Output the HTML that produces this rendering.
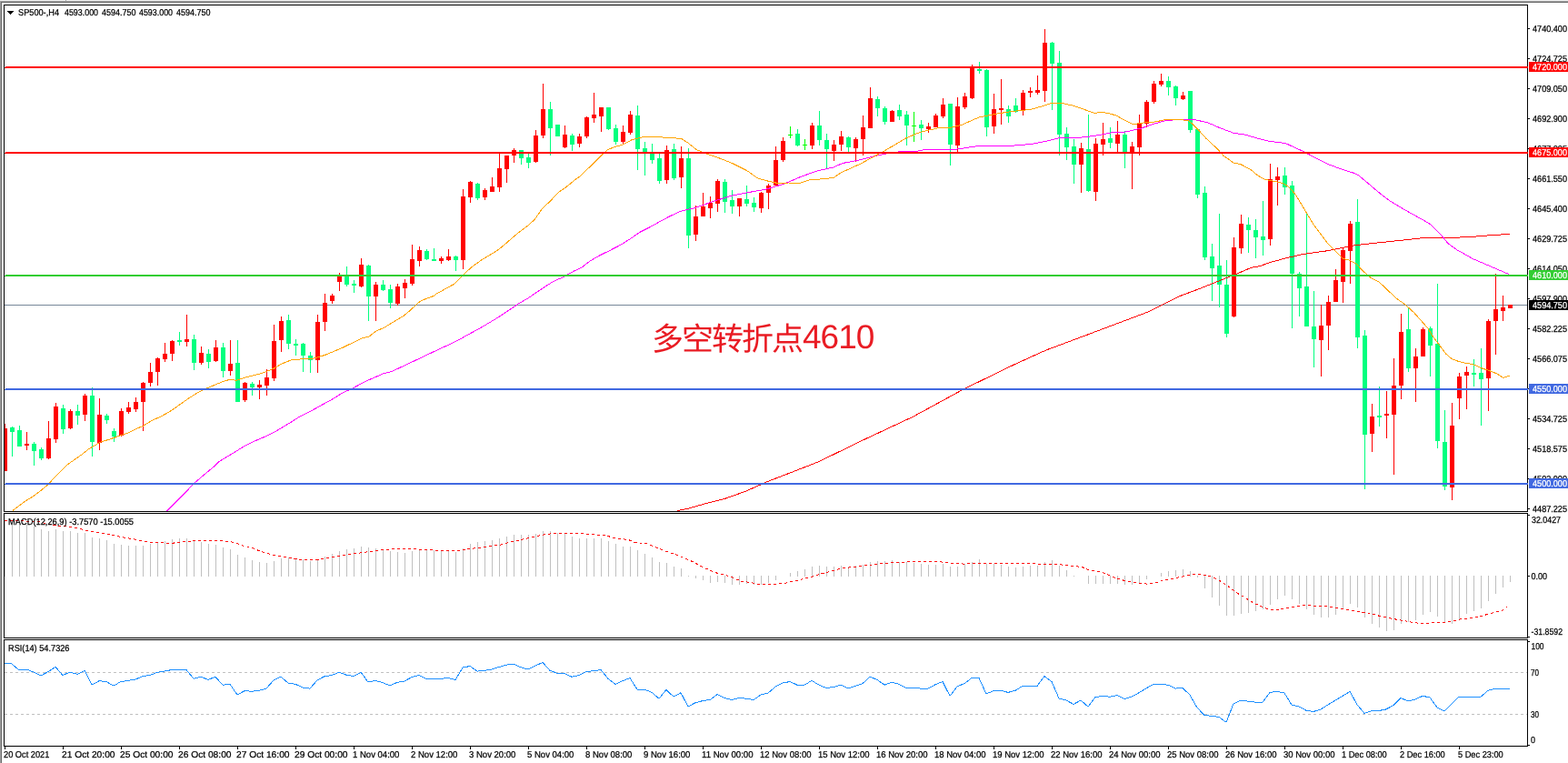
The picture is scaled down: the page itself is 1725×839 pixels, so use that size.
<!DOCTYPE html><html><head><meta charset="utf-8"><title>SP500-,H4</title><style>html,body{margin:0;padding:0;background:#fff;width:1725px;height:839px;overflow:hidden}svg{display:block;text-rendering:geometricPrecision}.t{font-family:"Liberation Sans",Arial,sans-serif;font-size:10.0px;fill:#000;stroke:#000;stroke-width:0.25px}.w{fill:#fff;stroke:#fff}.cn{font-family:"Liberation Sans","Noto Sans CJK SC",sans-serif;fill:#e91c24}</style></head><body>
<svg width="1725" height="839" viewBox="0 0 1725 839" shape-rendering="crispEdges">
<rect x="0" y="0" width="1725" height="839" fill="#fff"/>
<rect x="0" y="0" width="1725" height="1" fill="#f0f0f0"/>
<rect x="0" y="1" width="1725" height="1" fill="#a0a0a0"/>
<rect x="0" y="2" width="1725" height="1" fill="#696969"/>
<rect x="0" y="1" width="1" height="838" fill="#a0a0a0"/>
<rect x="1" y="2" width="1" height="837" fill="#696969"/>
<rect x="72" y="0" width="1" height="1" fill="#a0a0a0"/>
<defs><clipPath id="cm"><rect x="5" y="6" width="1675" height="556"/></clipPath><clipPath id="cd"><rect x="5" y="565" width="1675" height="136"/></clipPath><clipPath id="cr"><rect x="5" y="704" width="1675" height="116"/></clipPath></defs>
<g clip-path="url(#cm)">
<rect x="5" y="335" width="1676" height="1" fill="#778899"/>
<rect x="5" y="466" width="1" height="52" fill="#ff0000"/>
<rect x="3" y="471" width="5" height="47" fill="#ff0000"/>
<rect x="13" y="469" width="1" height="33" fill="#00ff7f"/>
<rect x="11" y="470" width="5" height="5" fill="#00ff7f"/>
<rect x="21" y="468" width="1" height="23" fill="#00ff7f"/>
<rect x="19" y="473" width="5" height="18" fill="#00ff7f"/>
<rect x="29" y="475" width="1" height="20" fill="#ff0000"/>
<rect x="27" y="488" width="5" height="2" fill="#ff0000"/>
<rect x="37" y="486" width="1" height="26" fill="#00ff7f"/>
<rect x="35" y="488" width="5" height="8" fill="#00ff7f"/>
<rect x="45" y="492" width="1" height="14" fill="#00ff7f"/>
<rect x="43" y="494" width="5" height="10" fill="#00ff7f"/>
<rect x="53" y="463" width="1" height="42" fill="#ff0000"/>
<rect x="51" y="482" width="5" height="22" fill="#ff0000"/>
<rect x="61" y="443" width="1" height="44" fill="#ff0000"/>
<rect x="59" y="447" width="5" height="36" fill="#ff0000"/>
<rect x="69" y="445" width="1" height="32" fill="#00ff7f"/>
<rect x="67" y="449" width="5" height="23" fill="#00ff7f"/>
<rect x="77" y="450" width="1" height="22" fill="#ff0000"/>
<rect x="75" y="452" width="5" height="19" fill="#ff0000"/>
<rect x="85" y="445" width="1" height="22" fill="#00ff7f"/>
<rect x="83" y="452" width="5" height="5" fill="#00ff7f"/>
<rect x="93" y="433" width="1" height="30" fill="#ff0000"/>
<rect x="91" y="435" width="5" height="21" fill="#ff0000"/>
<rect x="101" y="426" width="1" height="76" fill="#00ff7f"/>
<rect x="99" y="435" width="5" height="51" fill="#00ff7f"/>
<rect x="109" y="438" width="1" height="57" fill="#ff0000"/>
<rect x="107" y="456" width="5" height="31" fill="#ff0000"/>
<rect x="117" y="455" width="1" height="11" fill="#00ff7f"/>
<rect x="115" y="457" width="5" height="5" fill="#00ff7f"/>
<rect x="125" y="471" width="1" height="15" fill="#00ff7f"/>
<rect x="123" y="474" width="5" height="6" fill="#00ff7f"/>
<rect x="133" y="449" width="1" height="31" fill="#ff0000"/>
<rect x="131" y="452" width="5" height="27" fill="#ff0000"/>
<rect x="141" y="442" width="1" height="13" fill="#ff0000"/>
<rect x="139" y="448" width="5" height="5" fill="#ff0000"/>
<rect x="149" y="437" width="1" height="16" fill="#ff0000"/>
<rect x="147" y="442" width="5" height="8" fill="#ff0000"/>
<rect x="157" y="420" width="1" height="54" fill="#ff0000"/>
<rect x="155" y="421" width="5" height="21" fill="#ff0000"/>
<rect x="165" y="399" width="1" height="26" fill="#ff0000"/>
<rect x="163" y="409" width="5" height="12" fill="#ff0000"/>
<rect x="173" y="393" width="1" height="31" fill="#ff0000"/>
<rect x="171" y="394" width="5" height="15" fill="#ff0000"/>
<rect x="181" y="377" width="1" height="21" fill="#ff0000"/>
<rect x="179" y="389" width="5" height="6" fill="#ff0000"/>
<rect x="189" y="374" width="1" height="23" fill="#ff0000"/>
<rect x="187" y="375" width="5" height="14" fill="#ff0000"/>
<rect x="197" y="365" width="1" height="15" fill="#00ff7f"/>
<rect x="195" y="374" width="5" height="2" fill="#00ff7f"/>
<rect x="205" y="346" width="1" height="35" fill="#ff0000"/>
<rect x="203" y="373" width="5" height="3" fill="#ff0000"/>
<rect x="213" y="368" width="1" height="39" fill="#00ff7f"/>
<rect x="211" y="373" width="5" height="26" fill="#00ff7f"/>
<rect x="221" y="381" width="1" height="20" fill="#ff0000"/>
<rect x="219" y="388" width="5" height="11" fill="#ff0000"/>
<rect x="229" y="384" width="1" height="21" fill="#00ff7f"/>
<rect x="227" y="389" width="5" height="9" fill="#00ff7f"/>
<rect x="237" y="374" width="1" height="24" fill="#ff0000"/>
<rect x="235" y="382" width="5" height="15" fill="#ff0000"/>
<rect x="245" y="377" width="1" height="38" fill="#00ff7f"/>
<rect x="243" y="382" width="5" height="26" fill="#00ff7f"/>
<rect x="253" y="374" width="1" height="39" fill="#ff0000"/>
<rect x="251" y="400" width="5" height="8" fill="#ff0000"/>
<rect x="261" y="374" width="1" height="68" fill="#00ff7f"/>
<rect x="259" y="399" width="5" height="43" fill="#00ff7f"/>
<rect x="269" y="420" width="1" height="22" fill="#ff0000"/>
<rect x="267" y="421" width="5" height="19" fill="#ff0000"/>
<rect x="277" y="420" width="1" height="15" fill="#00ff7f"/>
<rect x="275" y="422" width="5" height="4" fill="#00ff7f"/>
<rect x="285" y="418" width="1" height="21" fill="#ff0000"/>
<rect x="283" y="423" width="5" height="3" fill="#ff0000"/>
<rect x="293" y="406" width="1" height="29" fill="#ff0000"/>
<rect x="291" y="415" width="5" height="9" fill="#ff0000"/>
<rect x="301" y="357" width="1" height="62" fill="#ff0000"/>
<rect x="299" y="375" width="5" height="41" fill="#ff0000"/>
<rect x="309" y="348" width="1" height="39" fill="#ff0000"/>
<rect x="307" y="353" width="5" height="21" fill="#ff0000"/>
<rect x="317" y="346" width="1" height="38" fill="#00ff7f"/>
<rect x="315" y="352" width="5" height="26" fill="#00ff7f"/>
<rect x="325" y="373" width="1" height="18" fill="#00ff7f"/>
<rect x="323" y="378" width="5" height="2" fill="#00ff7f"/>
<rect x="333" y="377" width="1" height="32" fill="#00ff7f"/>
<rect x="331" y="378" width="5" height="13" fill="#00ff7f"/>
<rect x="341" y="387" width="1" height="23" fill="#00ff7f"/>
<rect x="339" y="391" width="5" height="5" fill="#00ff7f"/>
<rect x="349" y="346" width="1" height="64" fill="#ff0000"/>
<rect x="347" y="354" width="5" height="42" fill="#ff0000"/>
<rect x="357" y="323" width="1" height="41" fill="#ff0000"/>
<rect x="355" y="333" width="5" height="21" fill="#ff0000"/>
<rect x="365" y="323" width="1" height="11" fill="#ff0000"/>
<rect x="363" y="325" width="5" height="6" fill="#ff0000"/>
<rect x="373" y="300" width="1" height="20" fill="#ff0000"/>
<rect x="371" y="304" width="5" height="6" fill="#ff0000"/>
<rect x="381" y="293" width="1" height="22" fill="#00ff7f"/>
<rect x="379" y="303" width="5" height="10" fill="#00ff7f"/>
<rect x="389" y="308" width="1" height="14" fill="#00ff7f"/>
<rect x="387" y="312" width="5" height="2" fill="#00ff7f"/>
<rect x="397" y="284" width="1" height="32" fill="#ff0000"/>
<rect x="395" y="291" width="5" height="24" fill="#ff0000"/>
<rect x="405" y="291" width="1" height="62" fill="#00ff7f"/>
<rect x="403" y="292" width="5" height="34" fill="#00ff7f"/>
<rect x="413" y="310" width="1" height="43" fill="#ff0000"/>
<rect x="411" y="313" width="5" height="13" fill="#ff0000"/>
<rect x="421" y="308" width="1" height="12" fill="#00ff7f"/>
<rect x="419" y="313" width="5" height="6" fill="#00ff7f"/>
<rect x="429" y="313" width="1" height="26" fill="#00ff7f"/>
<rect x="427" y="318" width="5" height="15" fill="#00ff7f"/>
<rect x="437" y="312" width="1" height="24" fill="#ff0000"/>
<rect x="435" y="315" width="5" height="19" fill="#ff0000"/>
<rect x="445" y="307" width="1" height="21" fill="#ff0000"/>
<rect x="443" y="311" width="5" height="6" fill="#ff0000"/>
<rect x="453" y="269" width="1" height="45" fill="#ff0000"/>
<rect x="451" y="285" width="5" height="27" fill="#ff0000"/>
<rect x="461" y="271" width="1" height="22" fill="#ff0000"/>
<rect x="459" y="275" width="5" height="12" fill="#ff0000"/>
<rect x="469" y="274" width="1" height="12" fill="#00ff7f"/>
<rect x="467" y="276" width="5" height="9" fill="#00ff7f"/>
<rect x="477" y="273" width="1" height="14" fill="#00ff7f"/>
<rect x="475" y="285" width="5" height="2" fill="#00ff7f"/>
<rect x="485" y="282" width="1" height="8" fill="#ff0000"/>
<rect x="483" y="284" width="5" height="3" fill="#ff0000"/>
<rect x="493" y="274" width="1" height="13" fill="#ff0000"/>
<rect x="491" y="282" width="5" height="4" fill="#ff0000"/>
<rect x="501" y="281" width="1" height="17" fill="#00ff7f"/>
<rect x="499" y="282" width="5" height="4" fill="#00ff7f"/>
<rect x="509" y="208" width="1" height="88" fill="#ff0000"/>
<rect x="507" y="216" width="5" height="70" fill="#ff0000"/>
<rect x="517" y="199" width="1" height="24" fill="#ff0000"/>
<rect x="515" y="200" width="5" height="17" fill="#ff0000"/>
<rect x="525" y="201" width="1" height="19" fill="#00ff7f"/>
<rect x="523" y="202" width="5" height="16" fill="#00ff7f"/>
<rect x="533" y="207" width="1" height="13" fill="#ff0000"/>
<rect x="531" y="209" width="5" height="8" fill="#ff0000"/>
<rect x="541" y="195" width="1" height="16" fill="#ff0000"/>
<rect x="539" y="205" width="5" height="6" fill="#ff0000"/>
<rect x="549" y="168" width="1" height="43" fill="#ff0000"/>
<rect x="547" y="185" width="5" height="21" fill="#ff0000"/>
<rect x="557" y="171" width="1" height="30" fill="#ff0000"/>
<rect x="555" y="171" width="5" height="15" fill="#ff0000"/>
<rect x="565" y="163" width="1" height="16" fill="#ff0000"/>
<rect x="563" y="165" width="5" height="6" fill="#ff0000"/>
<rect x="573" y="165" width="1" height="16" fill="#00ff7f"/>
<rect x="571" y="165" width="5" height="9" fill="#00ff7f"/>
<rect x="581" y="169" width="1" height="16" fill="#00ff7f"/>
<rect x="579" y="173" width="5" height="6" fill="#00ff7f"/>
<rect x="589" y="143" width="1" height="36" fill="#ff0000"/>
<rect x="587" y="149" width="5" height="29" fill="#ff0000"/>
<rect x="597" y="92" width="1" height="60" fill="#ff0000"/>
<rect x="595" y="120" width="5" height="29" fill="#ff0000"/>
<rect x="605" y="112" width="1" height="59" fill="#00ff7f"/>
<rect x="603" y="120" width="5" height="21" fill="#00ff7f"/>
<rect x="613" y="137" width="1" height="13" fill="#00ff7f"/>
<rect x="611" y="137" width="5" height="13" fill="#00ff7f"/>
<rect x="621" y="138" width="1" height="25" fill="#ff0000"/>
<rect x="619" y="148" width="5" height="14" fill="#ff0000"/>
<rect x="629" y="147" width="1" height="19" fill="#00ff7f"/>
<rect x="627" y="149" width="5" height="10" fill="#00ff7f"/>
<rect x="637" y="147" width="1" height="15" fill="#ff0000"/>
<rect x="635" y="150" width="5" height="8" fill="#ff0000"/>
<rect x="645" y="128" width="1" height="24" fill="#ff0000"/>
<rect x="643" y="129" width="5" height="21" fill="#ff0000"/>
<rect x="653" y="102" width="1" height="33" fill="#ff0000"/>
<rect x="651" y="126" width="5" height="4" fill="#ff0000"/>
<rect x="661" y="118" width="1" height="27" fill="#ff0000"/>
<rect x="659" y="118" width="5" height="10" fill="#ff0000"/>
<rect x="669" y="118" width="1" height="25" fill="#00ff7f"/>
<rect x="667" y="118" width="5" height="24" fill="#00ff7f"/>
<rect x="677" y="137" width="1" height="22" fill="#00ff7f"/>
<rect x="675" y="141" width="5" height="15" fill="#00ff7f"/>
<rect x="685" y="138" width="1" height="20" fill="#ff0000"/>
<rect x="683" y="145" width="5" height="11" fill="#ff0000"/>
<rect x="693" y="122" width="1" height="26" fill="#ff0000"/>
<rect x="691" y="126" width="5" height="20" fill="#ff0000"/>
<rect x="701" y="116" width="1" height="71" fill="#00ff7f"/>
<rect x="699" y="127" width="5" height="37" fill="#00ff7f"/>
<rect x="709" y="156" width="1" height="37" fill="#00ff7f"/>
<rect x="707" y="163" width="5" height="4" fill="#00ff7f"/>
<rect x="717" y="158" width="1" height="22" fill="#00ff7f"/>
<rect x="715" y="169" width="5" height="7" fill="#00ff7f"/>
<rect x="725" y="169" width="1" height="33" fill="#00ff7f"/>
<rect x="723" y="174" width="5" height="25" fill="#00ff7f"/>
<rect x="733" y="160" width="1" height="42" fill="#ff0000"/>
<rect x="731" y="165" width="5" height="33" fill="#ff0000"/>
<rect x="741" y="158" width="1" height="40" fill="#00ff7f"/>
<rect x="739" y="164" width="5" height="32" fill="#00ff7f"/>
<rect x="749" y="161" width="1" height="46" fill="#ff0000"/>
<rect x="747" y="174" width="5" height="21" fill="#ff0000"/>
<rect x="757" y="163" width="1" height="110" fill="#00ff7f"/>
<rect x="755" y="174" width="5" height="85" fill="#00ff7f"/>
<rect x="765" y="226" width="1" height="39" fill="#ff0000"/>
<rect x="763" y="238" width="5" height="20" fill="#ff0000"/>
<rect x="773" y="212" width="1" height="26" fill="#ff0000"/>
<rect x="771" y="227" width="5" height="11" fill="#ff0000"/>
<rect x="781" y="216" width="1" height="24" fill="#ff0000"/>
<rect x="779" y="223" width="5" height="6" fill="#ff0000"/>
<rect x="789" y="197" width="1" height="36" fill="#ff0000"/>
<rect x="787" y="199" width="5" height="25" fill="#ff0000"/>
<rect x="797" y="197" width="1" height="37" fill="#00ff7f"/>
<rect x="795" y="200" width="5" height="22" fill="#00ff7f"/>
<rect x="805" y="209" width="1" height="26" fill="#00ff7f"/>
<rect x="803" y="220" width="5" height="7" fill="#00ff7f"/>
<rect x="813" y="218" width="1" height="20" fill="#ff0000"/>
<rect x="811" y="218" width="5" height="9" fill="#ff0000"/>
<rect x="821" y="204" width="1" height="23" fill="#00ff7f"/>
<rect x="819" y="219" width="5" height="5" fill="#00ff7f"/>
<rect x="829" y="217" width="1" height="16" fill="#00ff7f"/>
<rect x="827" y="223" width="5" height="5" fill="#00ff7f"/>
<rect x="837" y="211" width="1" height="23" fill="#ff0000"/>
<rect x="835" y="212" width="5" height="17" fill="#ff0000"/>
<rect x="845" y="202" width="1" height="28" fill="#ff0000"/>
<rect x="843" y="204" width="5" height="8" fill="#ff0000"/>
<rect x="853" y="161" width="1" height="43" fill="#ff0000"/>
<rect x="851" y="176" width="5" height="28" fill="#ff0000"/>
<rect x="861" y="151" width="1" height="27" fill="#ff0000"/>
<rect x="859" y="155" width="5" height="21" fill="#ff0000"/>
<rect x="869" y="139" width="1" height="13" fill="#00ff00"/>
<rect x="867" y="148" width="5" height="1" fill="#00ff00"/>
<rect x="877" y="142" width="1" height="19" fill="#00ff7f"/>
<rect x="875" y="147" width="5" height="13" fill="#00ff7f"/>
<rect x="885" y="153" width="1" height="12" fill="#00ff00"/>
<rect x="883" y="159" width="5" height="1" fill="#00ff00"/>
<rect x="893" y="135" width="1" height="29" fill="#ff0000"/>
<rect x="891" y="138" width="5" height="22" fill="#ff0000"/>
<rect x="901" y="122" width="1" height="38" fill="#00ff7f"/>
<rect x="899" y="138" width="5" height="16" fill="#00ff7f"/>
<rect x="909" y="147" width="1" height="38" fill="#00ff7f"/>
<rect x="907" y="154" width="5" height="10" fill="#00ff7f"/>
<rect x="917" y="154" width="1" height="23" fill="#ff0000"/>
<rect x="915" y="159" width="5" height="7" fill="#ff0000"/>
<rect x="925" y="144" width="1" height="22" fill="#ff0000"/>
<rect x="923" y="150" width="5" height="9" fill="#ff0000"/>
<rect x="933" y="150" width="1" height="17" fill="#00ff7f"/>
<rect x="931" y="151" width="5" height="11" fill="#00ff7f"/>
<rect x="941" y="151" width="1" height="27" fill="#ff0000"/>
<rect x="939" y="153" width="5" height="10" fill="#ff0000"/>
<rect x="949" y="127" width="1" height="44" fill="#ff0000"/>
<rect x="947" y="140" width="5" height="13" fill="#ff0000"/>
<rect x="957" y="96" width="1" height="45" fill="#ff0000"/>
<rect x="955" y="108" width="5" height="33" fill="#ff0000"/>
<rect x="965" y="106" width="1" height="22" fill="#00ff7f"/>
<rect x="963" y="109" width="5" height="10" fill="#00ff7f"/>
<rect x="973" y="117" width="1" height="20" fill="#00ff7f"/>
<rect x="971" y="119" width="5" height="15" fill="#00ff7f"/>
<rect x="981" y="121" width="1" height="13" fill="#ff0000"/>
<rect x="979" y="122" width="5" height="12" fill="#ff0000"/>
<rect x="989" y="115" width="1" height="17" fill="#00ff7f"/>
<rect x="987" y="121" width="5" height="7" fill="#00ff7f"/>
<rect x="997" y="122" width="1" height="38" fill="#00ff7f"/>
<rect x="995" y="126" width="5" height="12" fill="#00ff7f"/>
<rect x="1005" y="123" width="1" height="33" fill="#00ff00"/>
<rect x="1003" y="138" width="5" height="1" fill="#00ff00"/>
<rect x="1013" y="132" width="1" height="22" fill="#00ff7f"/>
<rect x="1011" y="137" width="5" height="4" fill="#00ff7f"/>
<rect x="1021" y="135" width="1" height="11" fill="#ff0000"/>
<rect x="1019" y="139" width="5" height="3" fill="#ff0000"/>
<rect x="1029" y="125" width="1" height="15" fill="#ff0000"/>
<rect x="1027" y="127" width="5" height="13" fill="#ff0000"/>
<rect x="1037" y="108" width="1" height="22" fill="#ff0000"/>
<rect x="1035" y="115" width="5" height="13" fill="#ff0000"/>
<rect x="1045" y="114" width="1" height="68" fill="#00ff7f"/>
<rect x="1043" y="114" width="5" height="45" fill="#00ff7f"/>
<rect x="1053" y="107" width="1" height="60" fill="#ff0000"/>
<rect x="1051" y="117" width="5" height="43" fill="#ff0000"/>
<rect x="1061" y="102" width="1" height="18" fill="#ff0000"/>
<rect x="1059" y="106" width="5" height="12" fill="#ff0000"/>
<rect x="1069" y="71" width="1" height="38" fill="#ff0000"/>
<rect x="1067" y="74" width="5" height="34" fill="#ff0000"/>
<rect x="1077" y="68" width="1" height="13" fill="#00ff7f"/>
<rect x="1075" y="76" width="5" height="2" fill="#00ff7f"/>
<rect x="1085" y="76" width="1" height="74" fill="#00ff7f"/>
<rect x="1083" y="77" width="5" height="63" fill="#00ff7f"/>
<rect x="1093" y="103" width="1" height="44" fill="#ff0000"/>
<rect x="1091" y="120" width="5" height="19" fill="#ff0000"/>
<rect x="1101" y="87" width="1" height="50" fill="#ff0000"/>
<rect x="1099" y="119" width="5" height="2" fill="#ff0000"/>
<rect x="1109" y="116" width="1" height="19" fill="#00ff7f"/>
<rect x="1107" y="120" width="5" height="8" fill="#00ff7f"/>
<rect x="1117" y="108" width="1" height="16" fill="#00ff7f"/>
<rect x="1115" y="116" width="5" height="7" fill="#00ff7f"/>
<rect x="1125" y="99" width="1" height="28" fill="#ff0000"/>
<rect x="1123" y="102" width="5" height="20" fill="#ff0000"/>
<rect x="1133" y="96" width="1" height="11" fill="#ff0000"/>
<rect x="1131" y="100" width="5" height="2" fill="#ff0000"/>
<rect x="1141" y="83" width="1" height="21" fill="#ff0000"/>
<rect x="1139" y="99" width="5" height="3" fill="#ff0000"/>
<rect x="1149" y="32" width="1" height="80" fill="#ff0000"/>
<rect x="1147" y="47" width="5" height="53" fill="#ff0000"/>
<rect x="1157" y="46" width="1" height="75" fill="#00ff7f"/>
<rect x="1155" y="47" width="5" height="23" fill="#00ff7f"/>
<rect x="1165" y="56" width="1" height="115" fill="#00ff7f"/>
<rect x="1163" y="69" width="5" height="79" fill="#00ff7f"/>
<rect x="1173" y="140" width="1" height="36" fill="#00ff7f"/>
<rect x="1171" y="147" width="5" height="15" fill="#00ff7f"/>
<rect x="1181" y="153" width="1" height="49" fill="#00ff7f"/>
<rect x="1179" y="161" width="5" height="20" fill="#00ff7f"/>
<rect x="1189" y="157" width="1" height="55" fill="#ff0000"/>
<rect x="1187" y="163" width="5" height="18" fill="#ff0000"/>
<rect x="1197" y="126" width="1" height="85" fill="#00ff7f"/>
<rect x="1195" y="164" width="5" height="46" fill="#00ff7f"/>
<rect x="1205" y="152" width="1" height="69" fill="#ff0000"/>
<rect x="1203" y="158" width="5" height="53" fill="#ff0000"/>
<rect x="1213" y="135" width="1" height="36" fill="#ff0000"/>
<rect x="1211" y="153" width="5" height="6" fill="#ff0000"/>
<rect x="1221" y="140" width="1" height="23" fill="#00ff7f"/>
<rect x="1219" y="152" width="5" height="5" fill="#00ff7f"/>
<rect x="1229" y="133" width="1" height="34" fill="#ff0000"/>
<rect x="1227" y="148" width="5" height="10" fill="#ff0000"/>
<rect x="1237" y="144" width="1" height="41" fill="#00ff7f"/>
<rect x="1235" y="148" width="5" height="19" fill="#00ff7f"/>
<rect x="1245" y="156" width="1" height="52" fill="#ff0000"/>
<rect x="1243" y="161" width="5" height="7" fill="#ff0000"/>
<rect x="1253" y="126" width="1" height="45" fill="#ff0000"/>
<rect x="1251" y="136" width="5" height="26" fill="#ff0000"/>
<rect x="1261" y="110" width="1" height="30" fill="#ff0000"/>
<rect x="1259" y="112" width="5" height="24" fill="#ff0000"/>
<rect x="1269" y="89" width="1" height="25" fill="#ff0000"/>
<rect x="1267" y="92" width="5" height="20" fill="#ff0000"/>
<rect x="1277" y="81" width="1" height="14" fill="#ff0000"/>
<rect x="1275" y="89" width="5" height="4" fill="#ff0000"/>
<rect x="1285" y="84" width="1" height="21" fill="#00ff7f"/>
<rect x="1283" y="89" width="5" height="7" fill="#00ff7f"/>
<rect x="1293" y="94" width="1" height="22" fill="#00ff7f"/>
<rect x="1291" y="95" width="5" height="13" fill="#00ff7f"/>
<rect x="1301" y="101" width="1" height="9" fill="#ff0000"/>
<rect x="1299" y="105" width="5" height="4" fill="#ff0000"/>
<rect x="1309" y="100" width="1" height="46" fill="#00ff7f"/>
<rect x="1307" y="100" width="5" height="43" fill="#00ff7f"/>
<rect x="1317" y="142" width="1" height="76" fill="#00ff7f"/>
<rect x="1315" y="142" width="5" height="72" fill="#00ff7f"/>
<rect x="1325" y="205" width="1" height="81" fill="#00ff7f"/>
<rect x="1323" y="212" width="5" height="71" fill="#00ff7f"/>
<rect x="1333" y="268" width="1" height="63" fill="#00ff7f"/>
<rect x="1331" y="282" width="5" height="13" fill="#00ff7f"/>
<rect x="1341" y="235" width="1" height="103" fill="#00ff7f"/>
<rect x="1339" y="292" width="5" height="21" fill="#00ff7f"/>
<rect x="1349" y="286" width="1" height="85" fill="#00ff7f"/>
<rect x="1347" y="313" width="5" height="54" fill="#00ff7f"/>
<rect x="1357" y="261" width="1" height="88" fill="#ff0000"/>
<rect x="1355" y="272" width="5" height="76" fill="#ff0000"/>
<rect x="1365" y="236" width="1" height="43" fill="#ff0000"/>
<rect x="1363" y="246" width="5" height="27" fill="#ff0000"/>
<rect x="1373" y="239" width="1" height="39" fill="#00ff7f"/>
<rect x="1371" y="247" width="5" height="6" fill="#00ff7f"/>
<rect x="1381" y="241" width="1" height="43" fill="#00ff7f"/>
<rect x="1379" y="253" width="5" height="8" fill="#00ff7f"/>
<rect x="1389" y="221" width="1" height="60" fill="#00ff7f"/>
<rect x="1387" y="260" width="5" height="4" fill="#00ff7f"/>
<rect x="1397" y="180" width="1" height="90" fill="#ff0000"/>
<rect x="1395" y="197" width="5" height="66" fill="#ff0000"/>
<rect x="1405" y="184" width="1" height="42" fill="#ff0000"/>
<rect x="1403" y="194" width="5" height="4" fill="#ff0000"/>
<rect x="1413" y="184" width="1" height="30" fill="#00ff7f"/>
<rect x="1411" y="193" width="5" height="13" fill="#00ff7f"/>
<rect x="1421" y="199" width="1" height="162" fill="#00ff7f"/>
<rect x="1419" y="204" width="5" height="97" fill="#00ff7f"/>
<rect x="1429" y="299" width="1" height="49" fill="#00ff7f"/>
<rect x="1427" y="301" width="5" height="16" fill="#00ff7f"/>
<rect x="1437" y="233" width="1" height="126" fill="#00ff7f"/>
<rect x="1435" y="315" width="5" height="44" fill="#00ff7f"/>
<rect x="1445" y="320" width="1" height="84" fill="#00ff7f"/>
<rect x="1443" y="359" width="5" height="14" fill="#00ff7f"/>
<rect x="1453" y="335" width="1" height="79" fill="#ff0000"/>
<rect x="1451" y="358" width="5" height="16" fill="#ff0000"/>
<rect x="1461" y="325" width="1" height="60" fill="#ff0000"/>
<rect x="1459" y="332" width="5" height="26" fill="#ff0000"/>
<rect x="1469" y="296" width="1" height="36" fill="#ff0000"/>
<rect x="1467" y="308" width="5" height="24" fill="#ff0000"/>
<rect x="1477" y="273" width="1" height="60" fill="#ff0000"/>
<rect x="1475" y="275" width="5" height="35" fill="#ff0000"/>
<rect x="1485" y="243" width="1" height="69" fill="#ff0000"/>
<rect x="1483" y="246" width="5" height="30" fill="#ff0000"/>
<rect x="1493" y="219" width="1" height="164" fill="#00ff7f"/>
<rect x="1491" y="244" width="5" height="127" fill="#00ff7f"/>
<rect x="1501" y="363" width="1" height="175" fill="#00ff7f"/>
<rect x="1499" y="369" width="5" height="109" fill="#00ff7f"/>
<rect x="1509" y="444" width="1" height="53" fill="#ff0000"/>
<rect x="1507" y="458" width="5" height="19" fill="#ff0000"/>
<rect x="1517" y="425" width="1" height="44" fill="#00ff7f"/>
<rect x="1515" y="457" width="5" height="2" fill="#00ff7f"/>
<rect x="1525" y="430" width="1" height="52" fill="#ff0000"/>
<rect x="1523" y="455" width="5" height="2" fill="#ff0000"/>
<rect x="1533" y="394" width="1" height="128" fill="#ff0000"/>
<rect x="1531" y="424" width="5" height="32" fill="#ff0000"/>
<rect x="1541" y="345" width="1" height="94" fill="#ff0000"/>
<rect x="1539" y="365" width="5" height="59" fill="#ff0000"/>
<rect x="1549" y="338" width="1" height="71" fill="#00ff7f"/>
<rect x="1547" y="362" width="5" height="43" fill="#00ff7f"/>
<rect x="1557" y="383" width="1" height="59" fill="#ff0000"/>
<rect x="1555" y="392" width="5" height="13" fill="#ff0000"/>
<rect x="1565" y="360" width="1" height="32" fill="#ff0000"/>
<rect x="1563" y="362" width="5" height="30" fill="#ff0000"/>
<rect x="1573" y="359" width="1" height="55" fill="#00ff7f"/>
<rect x="1571" y="361" width="5" height="19" fill="#00ff7f"/>
<rect x="1581" y="312" width="1" height="181" fill="#00ff7f"/>
<rect x="1579" y="378" width="5" height="107" fill="#00ff7f"/>
<rect x="1589" y="451" width="1" height="88" fill="#00ff7f"/>
<rect x="1587" y="486" width="5" height="49" fill="#00ff7f"/>
<rect x="1597" y="443" width="1" height="107" fill="#ff0000"/>
<rect x="1595" y="468" width="5" height="68" fill="#ff0000"/>
<rect x="1605" y="410" width="1" height="51" fill="#ff0000"/>
<rect x="1603" y="414" width="5" height="24" fill="#ff0000"/>
<rect x="1613" y="403" width="1" height="47" fill="#ff0000"/>
<rect x="1611" y="409" width="5" height="4" fill="#ff0000"/>
<rect x="1621" y="395" width="1" height="30" fill="#00ff7f"/>
<rect x="1619" y="410" width="5" height="2" fill="#00ff7f"/>
<rect x="1629" y="383" width="1" height="85" fill="#00ff7f"/>
<rect x="1627" y="410" width="5" height="7" fill="#00ff7f"/>
<rect x="1637" y="351" width="1" height="101" fill="#ff0000"/>
<rect x="1635" y="353" width="5" height="63" fill="#ff0000"/>
<rect x="1645" y="301" width="1" height="89" fill="#ff0000"/>
<rect x="1643" y="340" width="5" height="13" fill="#ff0000"/>
<rect x="1653" y="325" width="1" height="28" fill="#ff0000"/>
<rect x="1651" y="338" width="5" height="4" fill="#ff0000"/>
<rect x="1661" y="335" width="1" height="4" fill="#ff0000"/>
<rect x="1659" y="335" width="5" height="4" fill="#ff0000"/>
<polyline fill="none" stroke="#ff0000" stroke-width="1" points="745.0,561.5 755.7,559.6 776.5,553.7 797.4,548.4 820.0,540.3 844.3,529.6 900.0,508.0 948.7,484.3 1004.3,458.3 1037.2,440.4 1060.0,428.0 1115.7,400.9 1150.4,385.2 1192.2,369.6 1261.7,343.5 1296.5,326.1 1319.0,317.7 1338.1,310.1 1358.6,301.9 1376.3,294.4 1387.2,292.4 1395.3,289.1 1414.4,283.9 1433.5,279.5 1460.0,275.8 1488.6,270.0 1517.2,266.8 1545.8,263.8 1570.6,261.1 1593.5,261.1 1600.0,261.2 1617.0,260.7 1632.0,259.3 1641.0,258.6 1660.7,257.4"/>
<polyline fill="none" stroke="#ff00ff" stroke-width="1" points="183.6,562.0 201.7,544.0 212.8,532.2 218.4,527.3 226.7,520.3 235.0,513.4 241.4,507.3 255.8,498.7 267.2,491.6 280.1,485.1 291.5,480.1 304.4,473.7 318.7,465.1 330.1,457.9 341.6,452.2 355.9,444.3 365.0,439.4 376.4,432.3 387.9,427.0 401.7,419.6 422.0,410.7 430.3,408.8 451.7,398.8 480.4,385.2 500.0,376.2 515.5,367.7 531.0,359.2 546.5,349.9 561.9,339.8 569.7,334.4 580.5,328.2 592.9,319.7 608.4,309.6 620.8,304.2 631.6,298.0 640.0,294.1 648.6,287.3 658.6,281.5 672.9,274.4 684.4,268.4 692.9,262.9 704.4,255.1 713.0,250.8 727.3,242.9 735.9,238.3 747.3,232.9 753.0,231.2 764.5,228.6 785.7,221.1 804.7,215.3 823.8,211.5 842.9,208.1 862.0,202.4 881.0,194.4 898.0,188.2 917.0,184.0 926.6,179.6 945.7,175.8 964.7,171.1 976.2,168.8 993.3,166.3 1008.6,166.3 1018.1,164.4 1031.5,164.4 1050.6,164.4 1058.0,163.3 1077.0,160.4 1111.4,160.4 1134.3,158.5 1153.3,154.7 1164.8,151.8 1182.0,151.8 1195.8,150.5 1210.0,148.5 1225.6,145.3 1237.0,145.3 1256.1,140.9 1267.6,136.7 1282.8,132.5 1298.1,131.4 1313.3,131.4 1328.6,134.8 1342.0,140.6 1357.2,146.3 1370.0,148.1 1381.9,151.7 1393.8,154.8 1405.8,156.5 1414.1,157.4 1423.6,161.9 1434.4,166.7 1447.5,173.9 1463.0,181.3 1477.3,186.6 1489.2,190.2 1495.1,193.2 1507.1,203.3 1519.0,213.4 1530.0,221.5 1545.8,231.0 1564.9,241.5 1574.4,247.2 1584.0,256.7 1593.5,268.2 1603.0,274.8 1620.0,284.4 1659.6,301.4"/>
<polyline fill="none" stroke="#ffa500" stroke-width="1" points="13.9,561.4 27.8,551.0 36.2,546.1 44.5,539.8 52.9,532.9 58.4,526.6 64.4,520.5 73.7,511.3 83.5,504.3 90.4,499.5 97.4,493.9 105.7,489.0 110.0,486.3 119.5,483.4 129.1,480.1 140.5,476.3 150.1,471.5 157.7,468.2 167.2,462.4 176.8,458.1 186.3,452.9 192.0,449.1 200.6,442.9 208.2,437.6 214.9,433.4 222.5,429.1 229.2,426.2 244.3,420.0 252.9,417.2 260.0,418.3 270.0,415.0 284.4,411.4 292.9,408.6 301.5,405.0 310.1,400.0 320.0,396.0 330.0,395.0 342.1,394.9 357.3,390.5 376.4,382.5 399.3,371.4 405.4,370.5 413.9,364.0 423.6,359.7 432.2,354.4 444.0,347.4 450.4,342.0 456.9,336.1 462.2,331.3 469.7,328.1 477.3,325.4 480.0,323.2 500.4,311.9 505.8,306.5 510.0,301.7 519.7,293.1 529.4,286.1 540.1,279.7 548.7,274.3 555.1,269.0 563.7,261.5 570.1,256.1 580.9,248.0 588.4,241.1 596.6,229.2 605.2,221.3 614.3,211.5 622.2,206.2 632.7,197.7 638.0,193.8 649.8,182.6 658.9,173.4 668.1,164.9 674.7,162.0 685.2,159.0 695.0,153.8 707.7,150.6 721.0,150.6 738.0,151.5 749.4,152.4 757.0,157.2 766.6,164.8 780.0,170.0 795.2,175.3 806.6,180.0 821.9,187.7 833.3,195.9 844.8,199.1 856.2,201.6 867.7,201.0 881.0,201.0 890.6,197.8 898.0,197.4 917.0,195.5 924.7,190.1 945.7,180.6 970.5,167.3 983.8,159.6 997.2,151.6 1012.4,145.3 1031.5,140.9 1046.7,140.2 1058.0,137.3 1077.0,129.0 1096.1,125.1 1115.2,122.3 1134.3,120.3 1147.6,116.5 1157.2,113.1 1166.7,113.1 1182.0,116.5 1195.3,121.3 1204.8,124.5 1210.6,123.2 1218.0,124.3 1227.5,126.8 1237.0,132.0 1246.6,136.7 1256.1,135.2 1271.4,133.9 1282.8,131.4 1296.2,131.4 1307.6,132.5 1317.2,141.5 1326.7,152.0 1340.0,164.4 1345.8,171.1 1357.2,179.1 1364.8,180.6 1376.3,186.7 1382.7,192.3 1388.0,195.5 1392.3,197.6 1396.1,198.2 1402.5,199.4 1406.8,200.3 1411.1,201.6 1414.3,203.2 1417.5,205.4 1420.8,208.6 1425.6,214.5 1433.5,227.7 1444.9,246.7 1460.0,266.8 1467.6,274.8 1477.2,284.4 1484.8,286.3 1492.4,290.1 1498.1,296.8 1507.7,305.3 1517.2,310.1 1536.3,328.2 1545.8,334.9 1555.3,343.5 1570.6,360.6 1576.3,370.0 1585.0,381.5 1590.7,389.1 1597.4,394.8 1604.1,397.2 1611.7,399.1 1619.3,400.5 1623.1,401.4 1629.8,404.8 1638.4,407.6 1647.0,411.0 1653.6,415.4 1656.5,414.5 1660.8,413.3"/>
</g>
<text class="cn" x="717" y="384.7" font-size="35px" letter-spacing="-2px" font-family="Noto Sans CJK SC,sans-serif">多空转折点</text>
<text class="cn" x="883" y="383" font-size="37px" letter-spacing="-1px">4610</text>
<path d="M8 12h7v1h-1v1h-1v1h-1v1h-1v-1h-1v-1h-1v-1h-1z" fill="#000"/>
<text class="t" x="20.0" y="17.0" textLength="45.0" lengthAdjust="spacingAndGlyphs">SP500-,H4</text>
<text class="t" x="71.0" y="17.0" textLength="37.0" lengthAdjust="spacingAndGlyphs">4593.000</text>
<text class="t" x="112.0" y="17.0" textLength="37.5" lengthAdjust="spacingAndGlyphs">4594.750</text>
<text class="t" x="153.0" y="17.0" textLength="37.0" lengthAdjust="spacingAndGlyphs">4593.000</text>
<text class="t" x="194.0" y="17.0" textLength="37.5" lengthAdjust="spacingAndGlyphs">4594.750</text>
<rect x="4.5" y="5.5" width="1676" height="557" fill="none" stroke="#000" stroke-width="1"/>
<rect x="4.5" y="564.5" width="1676" height="137" fill="none" stroke="#000" stroke-width="1"/>
<rect x="4.5" y="703.5" width="1676" height="117" fill="none" stroke="#000" stroke-width="1"/>
<rect x="6" y="73" width="1675" height="2" fill="#ff0000"/>
<rect x="5" y="74" width="1" height="1" fill="#ff0000"/>
<rect x="6" y="167" width="1675" height="2" fill="#ff0000"/>
<rect x="5" y="168" width="1" height="1" fill="#ff0000"/>
<rect x="6" y="302" width="1675" height="2" fill="#32cd32"/>
<rect x="5" y="303" width="1" height="1" fill="#32cd32"/>
<rect x="6" y="427" width="1675" height="2" fill="#4169e1"/>
<rect x="5" y="428" width="1" height="1" fill="#4169e1"/>
<rect x="6" y="531" width="1675" height="2" fill="#4169e1"/>
<rect x="5" y="532" width="1" height="1" fill="#4169e1"/>
<rect x="1681" y="31" width="2" height="1" fill="#000"/>
<text class="t" x="1686.0" y="35.0" textLength="38.0" lengthAdjust="spacingAndGlyphs">4740.400</text>
<rect x="1681" y="64" width="2" height="1" fill="#000"/>
<text class="t" x="1686.0" y="68.0" textLength="38.0" lengthAdjust="spacingAndGlyphs">4724.725</text>
<rect x="1681" y="97" width="2" height="1" fill="#000"/>
<text class="t" x="1686.0" y="101.0" textLength="38.0" lengthAdjust="spacingAndGlyphs">4709.050</text>
<rect x="1681" y="130" width="2" height="1" fill="#000"/>
<text class="t" x="1686.0" y="134.0" textLength="38.0" lengthAdjust="spacingAndGlyphs">4692.900</text>
<rect x="1681" y="163" width="2" height="1" fill="#000"/>
<text class="t" x="1686.0" y="167.0" textLength="38.0" lengthAdjust="spacingAndGlyphs">4677.225</text>
<rect x="1681" y="196" width="2" height="1" fill="#000"/>
<text class="t" x="1686.0" y="200.0" textLength="38.0" lengthAdjust="spacingAndGlyphs">4661.550</text>
<rect x="1681" y="229" width="2" height="1" fill="#000"/>
<text class="t" x="1686.0" y="233.0" textLength="38.0" lengthAdjust="spacingAndGlyphs">4645.400</text>
<rect x="1681" y="262" width="2" height="1" fill="#000"/>
<text class="t" x="1686.0" y="266.0" textLength="38.0" lengthAdjust="spacingAndGlyphs">4629.725</text>
<rect x="1681" y="295" width="2" height="1" fill="#000"/>
<text class="t" x="1686.0" y="299.0" textLength="38.0" lengthAdjust="spacingAndGlyphs">4614.050</text>
<rect x="1681" y="328" width="2" height="1" fill="#000"/>
<text class="t" x="1686.0" y="332.0" textLength="38.0" lengthAdjust="spacingAndGlyphs">4597.900</text>
<rect x="1681" y="361" width="2" height="1" fill="#000"/>
<text class="t" x="1686.0" y="365.0" textLength="38.0" lengthAdjust="spacingAndGlyphs">4582.225</text>
<rect x="1681" y="394" width="2" height="1" fill="#000"/>
<text class="t" x="1686.0" y="398.0" textLength="38.0" lengthAdjust="spacingAndGlyphs">4566.075</text>
<rect x="1681" y="427" width="2" height="1" fill="#000"/>
<text class="t" x="1686.0" y="431.0" textLength="38.0" lengthAdjust="spacingAndGlyphs">4550.400</text>
<rect x="1681" y="460" width="2" height="1" fill="#000"/>
<text class="t" x="1686.0" y="464.0" textLength="38.0" lengthAdjust="spacingAndGlyphs">4534.725</text>
<rect x="1681" y="493" width="2" height="1" fill="#000"/>
<text class="t" x="1686.0" y="497.0" textLength="38.0" lengthAdjust="spacingAndGlyphs">4518.575</text>
<rect x="1681" y="526" width="2" height="1" fill="#000"/>
<text class="t" x="1686.0" y="530.0" textLength="38.0" lengthAdjust="spacingAndGlyphs">4502.900</text>
<rect x="1681" y="559" width="2" height="1" fill="#000"/>
<text class="t" x="1686.0" y="563.0" textLength="38.0" lengthAdjust="spacingAndGlyphs">4487.225</text>
<rect x="1682" y="68" width="43" height="11" fill="#ff0000"/>
<text class="t w" x="1686.0" y="77.0" textLength="38.0" lengthAdjust="spacingAndGlyphs">4720.000</text>
<rect x="1682" y="162" width="43" height="11" fill="#ff0000"/>
<text class="t w" x="1686.0" y="171.0" textLength="38.0" lengthAdjust="spacingAndGlyphs">4675.000</text>
<rect x="1682" y="297" width="43" height="11" fill="#32cd32"/>
<text class="t w" x="1686.0" y="306.0" textLength="38.0" lengthAdjust="spacingAndGlyphs">4610.000</text>
<rect x="1682" y="330" width="43" height="11" fill="#000"/>
<text class="t w" x="1686.0" y="339.0" textLength="38.0" lengthAdjust="spacingAndGlyphs">4594.750</text>
<rect x="1682" y="422" width="43" height="11" fill="#4169e1"/>
<text class="t w" x="1686.0" y="431.0" textLength="38.0" lengthAdjust="spacingAndGlyphs">4550.000</text>
<rect x="1682" y="526" width="43" height="11" fill="#4169e1"/>
<text class="t w" x="1686.0" y="535.0" textLength="38.0" lengthAdjust="spacingAndGlyphs">4500.000</text>
<g clip-path="url(#cd)">
<rect x="5" y="572" width="1" height="62" fill="#c0c0c0"/>
<rect x="13" y="576" width="1" height="58" fill="#c0c0c0"/>
<rect x="21" y="576" width="1" height="58" fill="#c0c0c0"/>
<rect x="29" y="577" width="1" height="57" fill="#c0c0c0"/>
<rect x="37" y="579" width="1" height="55" fill="#c0c0c0"/>
<rect x="45" y="582" width="1" height="52" fill="#c0c0c0"/>
<rect x="53" y="584" width="1" height="50" fill="#c0c0c0"/>
<rect x="61" y="582" width="1" height="52" fill="#c0c0c0"/>
<rect x="69" y="584" width="1" height="50" fill="#c0c0c0"/>
<rect x="77" y="584" width="1" height="50" fill="#c0c0c0"/>
<rect x="85" y="586" width="1" height="48" fill="#c0c0c0"/>
<rect x="93" y="586" width="1" height="48" fill="#c0c0c0"/>
<rect x="101" y="591" width="1" height="43" fill="#c0c0c0"/>
<rect x="109" y="592" width="1" height="42" fill="#c0c0c0"/>
<rect x="117" y="594" width="1" height="40" fill="#c0c0c0"/>
<rect x="125" y="598" width="1" height="36" fill="#c0c0c0"/>
<rect x="133" y="599" width="1" height="35" fill="#c0c0c0"/>
<rect x="141" y="600" width="1" height="34" fill="#c0c0c0"/>
<rect x="149" y="600" width="1" height="34" fill="#c0c0c0"/>
<rect x="157" y="600" width="1" height="34" fill="#c0c0c0"/>
<rect x="165" y="598" width="1" height="36" fill="#c0c0c0"/>
<rect x="173" y="597" width="1" height="37" fill="#c0c0c0"/>
<rect x="181" y="595" width="1" height="39" fill="#c0c0c0"/>
<rect x="189" y="593" width="1" height="41" fill="#c0c0c0"/>
<rect x="197" y="592" width="1" height="42" fill="#c0c0c0"/>
<rect x="205" y="592" width="1" height="42" fill="#c0c0c0"/>
<rect x="213" y="594" width="1" height="40" fill="#c0c0c0"/>
<rect x="221" y="596" width="1" height="38" fill="#c0c0c0"/>
<rect x="229" y="598" width="1" height="36" fill="#c0c0c0"/>
<rect x="237" y="599" width="1" height="35" fill="#c0c0c0"/>
<rect x="245" y="602" width="1" height="32" fill="#c0c0c0"/>
<rect x="253" y="604" width="1" height="30" fill="#c0c0c0"/>
<rect x="261" y="610" width="1" height="24" fill="#c0c0c0"/>
<rect x="269" y="613" width="1" height="21" fill="#c0c0c0"/>
<rect x="277" y="616" width="1" height="18" fill="#c0c0c0"/>
<rect x="285" y="618" width="1" height="16" fill="#c0c0c0"/>
<rect x="293" y="619" width="1" height="15" fill="#c0c0c0"/>
<rect x="301" y="617" width="1" height="17" fill="#c0c0c0"/>
<rect x="309" y="614" width="1" height="20" fill="#c0c0c0"/>
<rect x="317" y="613" width="1" height="21" fill="#c0c0c0"/>
<rect x="325" y="615" width="1" height="19" fill="#c0c0c0"/>
<rect x="333" y="615" width="1" height="19" fill="#c0c0c0"/>
<rect x="341" y="617" width="1" height="17" fill="#c0c0c0"/>
<rect x="349" y="615" width="1" height="19" fill="#c0c0c0"/>
<rect x="357" y="612" width="1" height="22" fill="#c0c0c0"/>
<rect x="365" y="609" width="1" height="25" fill="#c0c0c0"/>
<rect x="373" y="606" width="1" height="28" fill="#c0c0c0"/>
<rect x="381" y="604" width="1" height="30" fill="#c0c0c0"/>
<rect x="389" y="603" width="1" height="31" fill="#c0c0c0"/>
<rect x="397" y="601" width="1" height="33" fill="#c0c0c0"/>
<rect x="405" y="602" width="1" height="32" fill="#c0c0c0"/>
<rect x="413" y="603" width="1" height="31" fill="#c0c0c0"/>
<rect x="421" y="605" width="1" height="29" fill="#c0c0c0"/>
<rect x="429" y="606" width="1" height="28" fill="#c0c0c0"/>
<rect x="437" y="607" width="1" height="27" fill="#c0c0c0"/>
<rect x="445" y="608" width="1" height="26" fill="#c0c0c0"/>
<rect x="453" y="606" width="1" height="28" fill="#c0c0c0"/>
<rect x="461" y="604" width="1" height="30" fill="#c0c0c0"/>
<rect x="469" y="604" width="1" height="30" fill="#c0c0c0"/>
<rect x="477" y="605" width="1" height="29" fill="#c0c0c0"/>
<rect x="485" y="605" width="1" height="29" fill="#c0c0c0"/>
<rect x="493" y="605" width="1" height="29" fill="#c0c0c0"/>
<rect x="501" y="607" width="1" height="27" fill="#c0c0c0"/>
<rect x="509" y="603" width="1" height="31" fill="#c0c0c0"/>
<rect x="517" y="598" width="1" height="36" fill="#c0c0c0"/>
<rect x="525" y="596" width="1" height="38" fill="#c0c0c0"/>
<rect x="533" y="595" width="1" height="39" fill="#c0c0c0"/>
<rect x="541" y="594" width="1" height="40" fill="#c0c0c0"/>
<rect x="549" y="592" width="1" height="42" fill="#c0c0c0"/>
<rect x="557" y="590" width="1" height="44" fill="#c0c0c0"/>
<rect x="565" y="588" width="1" height="46" fill="#c0c0c0"/>
<rect x="573" y="588" width="1" height="46" fill="#c0c0c0"/>
<rect x="581" y="588" width="1" height="46" fill="#c0c0c0"/>
<rect x="589" y="587" width="1" height="47" fill="#c0c0c0"/>
<rect x="597" y="584" width="1" height="50" fill="#c0c0c0"/>
<rect x="605" y="584" width="1" height="50" fill="#c0c0c0"/>
<rect x="613" y="586" width="1" height="48" fill="#c0c0c0"/>
<rect x="621" y="587" width="1" height="47" fill="#c0c0c0"/>
<rect x="629" y="590" width="1" height="44" fill="#c0c0c0"/>
<rect x="637" y="592" width="1" height="42" fill="#c0c0c0"/>
<rect x="645" y="592" width="1" height="42" fill="#c0c0c0"/>
<rect x="653" y="592" width="1" height="42" fill="#c0c0c0"/>
<rect x="661" y="592" width="1" height="42" fill="#c0c0c0"/>
<rect x="669" y="595" width="1" height="39" fill="#c0c0c0"/>
<rect x="677" y="598" width="1" height="36" fill="#c0c0c0"/>
<rect x="685" y="601" width="1" height="33" fill="#c0c0c0"/>
<rect x="693" y="601" width="1" height="33" fill="#c0c0c0"/>
<rect x="701" y="605" width="1" height="29" fill="#c0c0c0"/>
<rect x="709" y="609" width="1" height="25" fill="#c0c0c0"/>
<rect x="717" y="613" width="1" height="21" fill="#c0c0c0"/>
<rect x="725" y="618" width="1" height="16" fill="#c0c0c0"/>
<rect x="733" y="619" width="1" height="15" fill="#c0c0c0"/>
<rect x="741" y="623" width="1" height="11" fill="#c0c0c0"/>
<rect x="749" y="625" width="1" height="9" fill="#c0c0c0"/>
<rect x="757" y="633" width="1" height="1" fill="#c0c0c0"/>
<rect x="765" y="633" width="1" height="3" fill="#c0c0c0"/>
<rect x="773" y="633" width="1" height="5" fill="#c0c0c0"/>
<rect x="781" y="633" width="1" height="8" fill="#c0c0c0"/>
<rect x="789" y="633" width="1" height="7" fill="#c0c0c0"/>
<rect x="797" y="633" width="1" height="8" fill="#c0c0c0"/>
<rect x="805" y="633" width="1" height="10" fill="#c0c0c0"/>
<rect x="813" y="633" width="1" height="10" fill="#c0c0c0"/>
<rect x="821" y="633" width="1" height="9" fill="#c0c0c0"/>
<rect x="829" y="633" width="1" height="10" fill="#c0c0c0"/>
<rect x="837" y="633" width="1" height="10" fill="#c0c0c0"/>
<rect x="845" y="633" width="1" height="8" fill="#c0c0c0"/>
<rect x="853" y="633" width="1" height="5" fill="#c0c0c0"/>
<rect x="869" y="630" width="1" height="4" fill="#c0c0c0"/>
<rect x="877" y="628" width="1" height="6" fill="#c0c0c0"/>
<rect x="885" y="626" width="1" height="8" fill="#c0c0c0"/>
<rect x="893" y="623" width="1" height="11" fill="#c0c0c0"/>
<rect x="901" y="622" width="1" height="12" fill="#c0c0c0"/>
<rect x="909" y="623" width="1" height="11" fill="#c0c0c0"/>
<rect x="917" y="623" width="1" height="11" fill="#c0c0c0"/>
<rect x="925" y="622" width="1" height="12" fill="#c0c0c0"/>
<rect x="933" y="623" width="1" height="11" fill="#c0c0c0"/>
<rect x="941" y="622" width="1" height="12" fill="#c0c0c0"/>
<rect x="949" y="621" width="1" height="13" fill="#c0c0c0"/>
<rect x="957" y="618" width="1" height="16" fill="#c0c0c0"/>
<rect x="965" y="617" width="1" height="17" fill="#c0c0c0"/>
<rect x="973" y="617" width="1" height="17" fill="#c0c0c0"/>
<rect x="981" y="616" width="1" height="18" fill="#c0c0c0"/>
<rect x="989" y="618" width="1" height="16" fill="#c0c0c0"/>
<rect x="997" y="618" width="1" height="16" fill="#c0c0c0"/>
<rect x="1005" y="619" width="1" height="15" fill="#c0c0c0"/>
<rect x="1013" y="620" width="1" height="14" fill="#c0c0c0"/>
<rect x="1021" y="621" width="1" height="13" fill="#c0c0c0"/>
<rect x="1029" y="621" width="1" height="13" fill="#c0c0c0"/>
<rect x="1037" y="620" width="1" height="14" fill="#c0c0c0"/>
<rect x="1045" y="623" width="1" height="11" fill="#c0c0c0"/>
<rect x="1053" y="623" width="1" height="11" fill="#c0c0c0"/>
<rect x="1061" y="620" width="1" height="14" fill="#c0c0c0"/>
<rect x="1069" y="618" width="1" height="16" fill="#c0c0c0"/>
<rect x="1077" y="615" width="1" height="19" fill="#c0c0c0"/>
<rect x="1085" y="620" width="1" height="14" fill="#c0c0c0"/>
<rect x="1093" y="620" width="1" height="14" fill="#c0c0c0"/>
<rect x="1101" y="621" width="1" height="13" fill="#c0c0c0"/>
<rect x="1109" y="623" width="1" height="11" fill="#c0c0c0"/>
<rect x="1117" y="624" width="1" height="10" fill="#c0c0c0"/>
<rect x="1125" y="623" width="1" height="11" fill="#c0c0c0"/>
<rect x="1133" y="622" width="1" height="12" fill="#c0c0c0"/>
<rect x="1141" y="622" width="1" height="12" fill="#c0c0c0"/>
<rect x="1149" y="618" width="1" height="16" fill="#c0c0c0"/>
<rect x="1157" y="616" width="1" height="18" fill="#c0c0c0"/>
<rect x="1165" y="622" width="1" height="12" fill="#c0c0c0"/>
<rect x="1173" y="627" width="1" height="7" fill="#c0c0c0"/>
<rect x="1181" y="633" width="1" height="1" fill="#c0c0c0"/>
<rect x="1197" y="633" width="1" height="9" fill="#c0c0c0"/>
<rect x="1205" y="633" width="1" height="9" fill="#c0c0c0"/>
<rect x="1213" y="633" width="1" height="9" fill="#c0c0c0"/>
<rect x="1221" y="633" width="1" height="9" fill="#c0c0c0"/>
<rect x="1229" y="633" width="1" height="9" fill="#c0c0c0"/>
<rect x="1237" y="633" width="1" height="10" fill="#c0c0c0"/>
<rect x="1245" y="633" width="1" height="10" fill="#c0c0c0"/>
<rect x="1253" y="633" width="1" height="8" fill="#c0c0c0"/>
<rect x="1261" y="633" width="1" height="4" fill="#c0c0c0"/>
<rect x="1277" y="630" width="1" height="4" fill="#c0c0c0"/>
<rect x="1285" y="628" width="1" height="6" fill="#c0c0c0"/>
<rect x="1293" y="627" width="1" height="7" fill="#c0c0c0"/>
<rect x="1301" y="626" width="1" height="8" fill="#c0c0c0"/>
<rect x="1309" y="628" width="1" height="6" fill="#c0c0c0"/>
<rect x="1317" y="633" width="1" height="2" fill="#c0c0c0"/>
<rect x="1325" y="633" width="1" height="14" fill="#c0c0c0"/>
<rect x="1333" y="633" width="1" height="24" fill="#c0c0c0"/>
<rect x="1341" y="633" width="1" height="33" fill="#c0c0c0"/>
<rect x="1349" y="633" width="1" height="44" fill="#c0c0c0"/>
<rect x="1357" y="633" width="1" height="44" fill="#c0c0c0"/>
<rect x="1365" y="633" width="1" height="42" fill="#c0c0c0"/>
<rect x="1373" y="633" width="1" height="41" fill="#c0c0c0"/>
<rect x="1381" y="633" width="1" height="39" fill="#c0c0c0"/>
<rect x="1389" y="633" width="1" height="37" fill="#c0c0c0"/>
<rect x="1397" y="633" width="1" height="32" fill="#c0c0c0"/>
<rect x="1405" y="633" width="1" height="26" fill="#c0c0c0"/>
<rect x="1413" y="633" width="1" height="22" fill="#c0c0c0"/>
<rect x="1421" y="633" width="1" height="26" fill="#c0c0c0"/>
<rect x="1429" y="633" width="1" height="31" fill="#c0c0c0"/>
<rect x="1437" y="633" width="1" height="37" fill="#c0c0c0"/>
<rect x="1445" y="633" width="1" height="43" fill="#c0c0c0"/>
<rect x="1453" y="633" width="1" height="46" fill="#c0c0c0"/>
<rect x="1461" y="633" width="1" height="46" fill="#c0c0c0"/>
<rect x="1469" y="633" width="1" height="43" fill="#c0c0c0"/>
<rect x="1477" y="633" width="1" height="37" fill="#c0c0c0"/>
<rect x="1485" y="633" width="1" height="31" fill="#c0c0c0"/>
<rect x="1493" y="633" width="1" height="35" fill="#c0c0c0"/>
<rect x="1501" y="633" width="1" height="46" fill="#c0c0c0"/>
<rect x="1509" y="633" width="1" height="53" fill="#c0c0c0"/>
<rect x="1517" y="633" width="1" height="57" fill="#c0c0c0"/>
<rect x="1525" y="633" width="1" height="61" fill="#c0c0c0"/>
<rect x="1533" y="633" width="1" height="60" fill="#c0c0c0"/>
<rect x="1541" y="633" width="1" height="53" fill="#c0c0c0"/>
<rect x="1549" y="633" width="1" height="51" fill="#c0c0c0"/>
<rect x="1557" y="633" width="1" height="49" fill="#c0c0c0"/>
<rect x="1565" y="633" width="1" height="43" fill="#c0c0c0"/>
<rect x="1573" y="633" width="1" height="40" fill="#c0c0c0"/>
<rect x="1581" y="633" width="1" height="45" fill="#c0c0c0"/>
<rect x="1589" y="633" width="1" height="52" fill="#c0c0c0"/>
<rect x="1597" y="633" width="1" height="53" fill="#c0c0c0"/>
<rect x="1605" y="633" width="1" height="48" fill="#c0c0c0"/>
<rect x="1613" y="633" width="1" height="42" fill="#c0c0c0"/>
<rect x="1621" y="633" width="1" height="39" fill="#c0c0c0"/>
<rect x="1629" y="633" width="1" height="36" fill="#c0c0c0"/>
<rect x="1637" y="633" width="1" height="28" fill="#c0c0c0"/>
<rect x="1645" y="633" width="1" height="20" fill="#c0c0c0"/>
<rect x="1653" y="633" width="1" height="13" fill="#c0c0c0"/>
<rect x="1661" y="633" width="1" height="7" fill="#c0c0c0"/>
<polyline fill="none" stroke="#ff0000" stroke-width="1" stroke-dasharray="3 3" points="5.0,572.3 18.0,572.3 24.0,572.6 30.0,573.3 36.0,573.3 42.0,573.6 48.6,575.1 54.6,576.3 60.3,577.5 66.3,578.4 72.0,578.4 78.3,579.3 84.0,580.5 96.8,583.9 107.2,585.6 121.0,587.7 134.8,590.8 146.9,592.8 159.0,595.4 165.9,596.6 190.1,597.2 198.8,596.0 216.0,594.6 224.7,594.2 242.0,594.2 259.2,596.6 264.4,599.4 276.7,602.0 286.7,606.4 300.0,610.0 311.7,612.6 330.1,615.1 350.1,615.1 360.1,613.7 386.8,609.2 403.5,607.0 420.2,604.7 436.9,603.4 456.9,603.7 470.2,604.7 486.9,605.4 508.6,605.0 515.3,603.7 528.6,602.0 537.0,600.9 550.0,599.3 558.3,597.0 570.0,594.2 586.7,590.4 600.1,587.5 611.7,586.4 640.1,586.4 645.1,587.5 665.1,588.4 675.2,591.4 691.8,593.7 698.5,596.4 711.9,598.0 720.2,601.4 728.5,604.7 741.9,609.2 750.2,612.6 761.9,617.6 773.6,623.7 785.3,629.2 795.3,631.7 805.3,634.7 815.3,639.3 825.0,640.4 833.3,642.1 853.4,642.1 863.4,641.4 870.1,639.8 881.7,637.1 895.1,633.7 903.4,630.9 916.8,627.6 923.5,625.4 936.8,623.7 953.5,621.7 965.2,620.1 983.5,618.7 990.2,618.1 1033.6,617.6 1040.3,618.7 1060.3,620.1 1073.6,619.2 1136.7,619.2 1140.0,620.4 1165.1,620.4 1170.1,621.4 1190.1,623.4 1198.5,627.1 1211.8,629.2 1220.1,632.6 1228.5,635.9 1236.8,638.4 1245.2,640.1 1261.9,642.1 1271.9,640.9 1278.5,638.4 1291.9,635.9 1300.0,634.2 1308.3,632.4 1314.2,631.5 1320.0,631.5 1325.9,632.4 1332.5,634.2 1338.4,636.7 1344.2,640.0 1350.0,643.8 1356.7,648.8 1362.5,653.0 1368.4,656.3 1374.2,660.0 1380.0,663.4 1386.7,666.5 1393.4,669.3 1403.4,671.0 1410.0,669.8 1420.0,668.1 1436.7,665.5 1453.4,666.5 1461.8,667.1 1473.5,668.5 1480.1,670.5 1495.1,672.6 1506.8,674.3 1516.8,677.1 1528.5,679.8 1541.9,682.1 1553.5,684.3 1566.9,686.0 1578.6,684.3 1590.4,684.4 1600.7,682.7 1607.7,680.6 1621.5,679.3 1631.8,676.7 1638.8,674.9 1649.1,672.0 1654.3,670.6 1657.8,667.2"/>
</g>
<text class="t" x="9.0" y="577.0" textLength="138.0" lengthAdjust="spacingAndGlyphs">MACD(12,26,9) -3.7570 -15.0055</text>
<rect x="1681" y="566" width="2" height="1" fill="#000"/>
<rect x="1681" y="633" width="2" height="1" fill="#000"/>
<rect x="1681" y="700" width="2" height="1" fill="#000"/>
<text class="t" x="1685.0" y="575.0" textLength="32.0" lengthAdjust="spacingAndGlyphs">32.0427</text>
<text class="t" x="1684.5" y="637.0" textLength="17.5" lengthAdjust="spacingAndGlyphs">0.00</text>
<text class="t" x="1684.5" y="698.0" textLength="34.5" lengthAdjust="spacingAndGlyphs">-31.8592</text>
<g clip-path="url(#cr)">
<line x1="5" y1="739.5" x2="1680" y2="739.5" stroke="#c0c0c0" stroke-width="1" stroke-dasharray="3 3"/>
<line x1="5" y1="785.5" x2="1680" y2="785.5" stroke="#c0c0c0" stroke-width="1" stroke-dasharray="3 3"/>
<polyline fill="none" stroke="#1e90ff" stroke-width="1" points="5.0,729.2 13.0,730.0 21.0,737.0 29.0,736.0 37.0,739.0 45.0,743.0 53.0,738.6 61.0,733.3 69.0,742.5 77.0,739.0 85.0,741.4 93.0,737.3 101.0,753.2 109.0,748.7 117.0,749.5 125.0,754.1 133.0,749.5 141.0,748.4 149.0,747.1 157.0,743.5 165.0,742.5 173.0,739.3 181.0,738.1 189.0,736.5 197.0,736.5 205.0,736.5 213.0,746.3 221.0,744.2 229.0,747.4 237.0,744.2 245.0,753.2 253.0,752.3 261.0,764.1 269.0,759.7 277.0,760.2 285.0,759.3 293.0,757.1 301.0,747.9 309.0,744.2 317.0,751.1 325.0,752.3 333.0,756.0 341.0,757.1 349.0,747.9 357.0,743.8 365.0,742.5 373.0,739.3 381.0,742.2 389.0,743.5 397.0,739.3 405.0,750.0 413.0,748.4 421.0,750.6 429.0,753.9 437.0,750.3 445.0,749.0 453.0,744.6 461.0,742.5 469.0,746.3 477.0,746.3 485.0,746.3 493.0,745.5 501.0,747.4 509.0,734.1 517.0,732.5 525.0,738.1 533.0,737.3 541.0,736.0 549.0,733.5 557.0,731.2 565.0,730.0 573.0,733.8 581.0,736.0 589.0,732.1 597.0,728.4 605.0,737.3 613.0,740.3 621.0,740.6 629.0,744.2 637.0,742.5 645.0,738.6 653.0,737.7 661.0,736.5 669.0,746.3 677.0,752.3 685.0,748.7 693.0,745.5 701.0,758.1 709.0,758.1 717.0,761.4 725.0,768.2 733.0,758.4 741.0,766.2 749.0,761.7 757.0,777.1 765.0,772.7 773.0,770.6 781.0,769.5 789.0,763.6 797.0,767.4 805.0,769.5 813.0,767.4 821.0,768.2 829.0,769.5 837.0,764.1 845.0,762.0 853.0,755.2 861.0,751.1 869.0,749.5 877.0,753.2 885.0,753.2 893.0,748.4 901.0,753.2 909.0,756.5 917.0,755.5 925.0,753.2 933.0,757.1 941.0,754.4 949.0,751.6 957.0,744.2 965.0,747.4 973.0,753.2 981.0,750.3 989.0,752.3 997.0,756.5 1005.0,756.5 1013.0,757.1 1021.0,757.1 1029.0,752.8 1037.0,749.5 1045.0,765.3 1053.0,754.9 1061.0,751.6 1069.0,745.5 1077.0,745.5 1085.0,763.0 1093.0,759.7 1101.0,759.3 1109.0,761.4 1117.0,759.3 1125.0,754.4 1133.0,754.4 1141.0,754.4 1149.0,743.5 1157.0,749.5 1165.0,767.9 1173.0,770.1 1181.0,774.4 1189.0,770.1 1197.0,777.1 1205.0,766.6 1213.0,765.3 1221.0,766.2 1229.0,764.6 1237.0,768.5 1245.0,766.2 1253.0,761.7 1261.0,756.8 1269.0,752.3 1277.0,752.3 1285.0,753.2 1293.0,757.1 1301.0,756.5 1309.0,764.1 1317.0,778.2 1325.0,786.4 1333.0,787.3 1341.0,788.5 1349.0,794.2 1357.0,773.9 1365.0,770.1 1373.0,771.1 1381.0,772.2 1389.0,772.2 1397.0,761.4 1405.0,760.4 1413.0,762.0 1421.0,775.0 1429.0,777.1 1437.0,781.2 1445.0,782.5 1453.0,779.9 1461.0,775.0 1469.0,770.1 1477.0,765.3 1485.0,760.4 1493.0,774.7 1501.0,784.4 1509.0,781.5 1517.0,781.5 1525.0,779.9 1533.0,775.5 1541.0,767.4 1549.0,771.1 1557.0,769.0 1565.0,765.3 1573.0,766.9 1581.0,777.9 1589.0,782.0 1597.0,773.9 1605.0,766.2 1613.0,766.2 1621.0,766.2 1629.0,766.2 1637.0,759.3 1645.0,757.1 1653.0,757.1 1661.0,757.1"/>
</g>
<text class="t" x="9.0" y="716.0" textLength="67.5" lengthAdjust="spacingAndGlyphs">RSI(14) 54.7326</text>
<rect x="1681" y="705" width="2" height="1" fill="#000"/>
<rect x="1681" y="819" width="2" height="1" fill="#000"/>
<text class="t" x="1684.5" y="714.0" textLength="14.0" lengthAdjust="spacingAndGlyphs">100</text>
<text class="t" x="1684.0" y="743.0" textLength="9.0" lengthAdjust="spacingAndGlyphs">70</text>
<text class="t" x="1684.0" y="789.0" textLength="9.0" lengthAdjust="spacingAndGlyphs">30</text>
<text class="t" x="1684.0" y="817.0" textLength="5.0" lengthAdjust="spacingAndGlyphs">0</text>
<rect x="5" y="821" width="1" height="3" fill="#000"/>
<text class="t" x="4.0" y="833.0" textLength="50.4" lengthAdjust="spacingAndGlyphs">20 Oct 2021</text>
<rect x="69" y="821" width="1" height="3" fill="#000"/>
<text class="t" x="68.0" y="833.0" textLength="58.5" lengthAdjust="spacingAndGlyphs">21 Oct 20:00</text>
<rect x="133" y="821" width="1" height="3" fill="#000"/>
<text class="t" x="132.0" y="833.0" textLength="58.5" lengthAdjust="spacingAndGlyphs">25 Oct 00:00</text>
<rect x="197" y="821" width="1" height="3" fill="#000"/>
<text class="t" x="196.0" y="833.0" textLength="58.5" lengthAdjust="spacingAndGlyphs">26 Oct 08:00</text>
<rect x="261" y="821" width="1" height="3" fill="#000"/>
<text class="t" x="260.0" y="833.0" textLength="58.5" lengthAdjust="spacingAndGlyphs">27 Oct 16:00</text>
<rect x="325" y="821" width="1" height="3" fill="#000"/>
<text class="t" x="324.0" y="833.0" textLength="58.5" lengthAdjust="spacingAndGlyphs">29 Oct 00:00</text>
<rect x="389" y="821" width="1" height="3" fill="#000"/>
<text class="t" x="388.0" y="833.0" textLength="51.4" lengthAdjust="spacingAndGlyphs">1 Nov 04:00</text>
<rect x="453" y="821" width="1" height="3" fill="#000"/>
<text class="t" x="452.0" y="833.0" textLength="51.4" lengthAdjust="spacingAndGlyphs">2 Nov 12:00</text>
<rect x="517" y="821" width="1" height="3" fill="#000"/>
<text class="t" x="516.0" y="833.0" textLength="51.4" lengthAdjust="spacingAndGlyphs">3 Nov 20:00</text>
<rect x="581" y="821" width="1" height="3" fill="#000"/>
<text class="t" x="580.0" y="833.0" textLength="51.4" lengthAdjust="spacingAndGlyphs">5 Nov 04:00</text>
<rect x="645" y="821" width="1" height="3" fill="#000"/>
<text class="t" x="644.0" y="833.0" textLength="51.4" lengthAdjust="spacingAndGlyphs">8 Nov 08:00</text>
<rect x="709" y="821" width="1" height="3" fill="#000"/>
<text class="t" x="708.0" y="833.0" textLength="51.4" lengthAdjust="spacingAndGlyphs">9 Nov 16:00</text>
<rect x="773" y="821" width="1" height="3" fill="#000"/>
<text class="t" x="772.0" y="833.0" textLength="56.5" lengthAdjust="spacingAndGlyphs">11 Nov 00:00</text>
<rect x="837" y="821" width="1" height="3" fill="#000"/>
<text class="t" x="836.0" y="833.0" textLength="56.5" lengthAdjust="spacingAndGlyphs">12 Nov 08:00</text>
<rect x="901" y="821" width="1" height="3" fill="#000"/>
<text class="t" x="900.0" y="833.0" textLength="56.5" lengthAdjust="spacingAndGlyphs">15 Nov 12:00</text>
<rect x="965" y="821" width="1" height="3" fill="#000"/>
<text class="t" x="964.0" y="833.0" textLength="56.5" lengthAdjust="spacingAndGlyphs">16 Nov 20:00</text>
<rect x="1029" y="821" width="1" height="3" fill="#000"/>
<text class="t" x="1028.0" y="833.0" textLength="56.5" lengthAdjust="spacingAndGlyphs">18 Nov 04:00</text>
<rect x="1093" y="821" width="1" height="3" fill="#000"/>
<text class="t" x="1092.0" y="833.0" textLength="56.5" lengthAdjust="spacingAndGlyphs">19 Nov 12:00</text>
<rect x="1157" y="821" width="1" height="3" fill="#000"/>
<text class="t" x="1156.0" y="833.0" textLength="56.5" lengthAdjust="spacingAndGlyphs">22 Nov 16:00</text>
<rect x="1221" y="821" width="1" height="3" fill="#000"/>
<text class="t" x="1220.0" y="833.0" textLength="56.5" lengthAdjust="spacingAndGlyphs">24 Nov 00:00</text>
<rect x="1285" y="821" width="1" height="3" fill="#000"/>
<text class="t" x="1284.0" y="833.0" textLength="56.5" lengthAdjust="spacingAndGlyphs">25 Nov 08:00</text>
<rect x="1349" y="821" width="1" height="3" fill="#000"/>
<text class="t" x="1348.0" y="833.0" textLength="56.5" lengthAdjust="spacingAndGlyphs">26 Nov 16:00</text>
<rect x="1413" y="821" width="1" height="3" fill="#000"/>
<text class="t" x="1412.0" y="833.0" textLength="56.5" lengthAdjust="spacingAndGlyphs">30 Nov 00:00</text>
<rect x="1477" y="821" width="1" height="3" fill="#000"/>
<text class="t" x="1476.0" y="833.0" textLength="49.7" lengthAdjust="spacingAndGlyphs">1 Dec 08:00</text>
<rect x="1541" y="821" width="1" height="3" fill="#000"/>
<text class="t" x="1540.0" y="833.0" textLength="49.7" lengthAdjust="spacingAndGlyphs">2 Dec 16:00</text>
<rect x="1605" y="821" width="1" height="3" fill="#000"/>
<text class="t" x="1604.0" y="833.0" textLength="49.7" lengthAdjust="spacingAndGlyphs">5 Dec 23:00</text>
</svg></body></html>
